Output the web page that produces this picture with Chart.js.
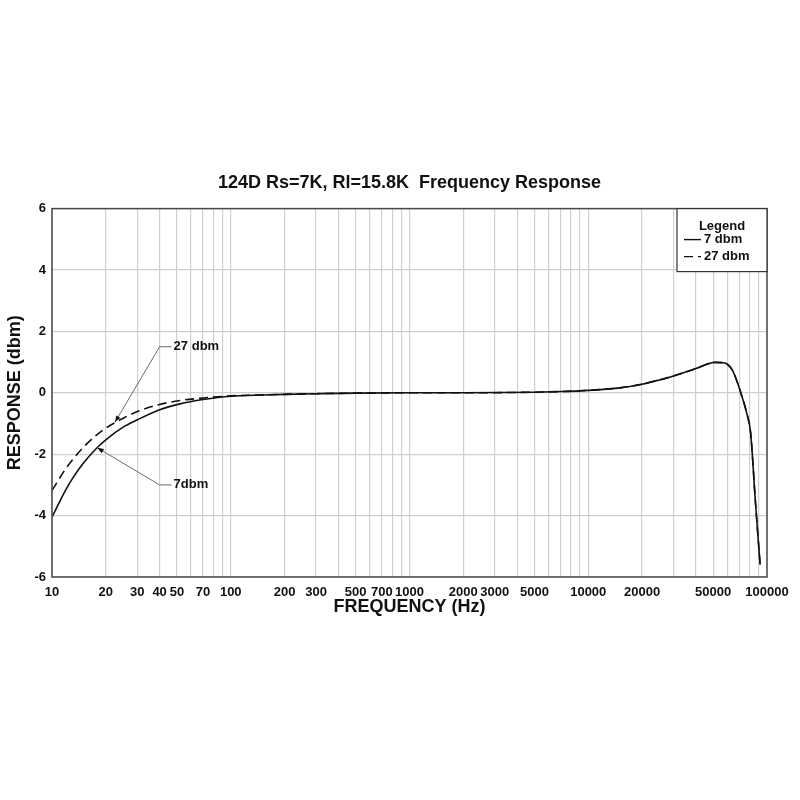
<!DOCTYPE html>
<html>
<head>
<meta charset="utf-8">
<title>124D Frequency Response</title>
<script src="https://cdn.jsdelivr.net/npm/chart.js@4.4.1/dist/chart.umd.min.js"></script>
<style>
    html, body { margin: 0; padding: 0; background: #ffffff; }
    #chart-wrap { width: 800px; height: 800px; }
</style>
</head>
<body>
<div id="chart-wrap"><canvas id="responseChart" width="800" height="800"></canvas></div>
<script>
const FONT = '"Liberation Sans", Arial, sans-serif';

// values
const frequencies = [10, 12, 13.2, 15, 17.8, 20, 25, 30, 40, 52, 70, 100, 150, 200, 300, 500, 1000, 2000, 5000, 7000,
    10000, 15000, 20000, 25000, 30000, 40000, 46000, 51000, 57000, 60000, 64000, 68000, 72000, 77000, 81000, 86000, 91500];
const response7dbm = [-4.05, -3.14, -2.74, -2.29, -1.80, -1.53, -1.12, -0.88, -0.55, -0.36, -0.22, -0.11, -0.07, -0.05, -0.03, -0.01, 0.0, 0.0, 0.02, 0.04,
    0.08, 0.16, 0.28, 0.42, 0.55, 0.79, 0.93, 0.99, 0.98, 0.93, 0.74, 0.37, -0.07, -0.66, -1.31, -3.49, -5.6];
const response27dbm = [-3.18, -2.45, -2.14, -1.77, -1.37, -1.15, -0.83, -0.61, -0.38, -0.25, -0.17, -0.10, -0.07, -0.05, -0.03, -0.01, 0.0, 0.0, 0.02, 0.04,
    0.08, 0.16, 0.28, 0.42, 0.55, 0.79, 0.93, 0.99, 0.98, 0.93, 0.74, 0.37, -0.07, -0.66, -1.31, -3.49, -5.6];

const seriesNames = ['7 dbm', '27 dbm'];
const gridDecades = [10, 100, 1000, 10000];
const xTickLabels = [10, 20, 30, 40, 50, 70, 100, 200, 300, 500, 700, 1000, 2000, 3000, 5000, 10000, 20000, 50000, 100000];

// callout labels: where the text sits and where the arrow points (data units)
const callouts = [
    { text: '27 dbm', labelFreq: 40, labelValue: 1.5, tipFreq: 22.5, tipValue: -0.96 },
    { text: '7dbm', labelFreq: 40, labelValue: -3.0, tipFreq: 17.9, tipValue: -1.79 }
];

function buildGridTicks() {
    const ticks = [];
    gridDecades.forEach(d => {
        for (let m = 1; m < 10; m++) ticks.push(d * m);
    });
    ticks.push(100000);
    return ticks.map(v => ({ value: v }));
}

function toPoints(values) {
    return frequencies.map((f, i) => ({ x: f, y: values[i] }));
}

const overlayPlugin = {
    id: 'overlay',
    afterDraw(chart) {
        const ctx = chart.ctx;
        const area = chart.chartArea;
        const xs = chart.scales.x;
        const ys = chart.scales.y;
        ctx.save();

        // callouts
        callouts.forEach(c => {
            const lx = xs.getPixelForValue(c.labelFreq);
            const ly = ys.getPixelForValue(c.labelValue);
            const tx = xs.getPixelForValue(c.tipFreq);
            const ty = ys.getPixelForValue(c.tipValue);
            ctx.strokeStyle = '#6a6a6a';
            ctx.lineWidth = 1;
            ctx.setLineDash([]);
            ctx.beginPath();
            ctx.moveTo(lx + 12, ly);
            ctx.lineTo(lx, ly);
            ctx.lineTo(tx, ty);
            ctx.stroke();
            const ang = Math.atan2(ty - ly, tx - lx);
            ctx.fillStyle = '#111';
            ctx.beginPath();
            ctx.moveTo(tx, ty);
            ctx.lineTo(tx - 7 * Math.cos(ang - 0.35), ty - 7 * Math.sin(ang - 0.35));
            ctx.lineTo(tx - 7 * Math.cos(ang + 0.35), ty - 7 * Math.sin(ang + 0.35));
            ctx.closePath();
            ctx.fill();
            ctx.font = 'bold 13px ' + FONT;
            ctx.textBaseline = 'middle';
            ctx.textAlign = 'left';
            ctx.fillText(c.text, lx + 14, ly);
        });

        // plot frame
        ctx.strokeStyle = '#4a4a4a';
        ctx.lineWidth = 1.5;
        ctx.strokeRect(area.left, area.top, area.right - area.left, area.bottom - area.top);

        // legend box
        const bw = 90, bh = 63;
        const bx = area.right - bw, by = area.top;
        ctx.fillStyle = '#ffffff';
        ctx.fillRect(bx, by, bw, bh);
        ctx.strokeStyle = '#333';
        ctx.lineWidth = 1.2;
        ctx.strokeRect(bx, by, bw, bh);
        ctx.fillStyle = '#111';
        ctx.font = 'bold 13px ' + FONT;
        ctx.textAlign = 'center';
        ctx.textBaseline = 'middle';
        ctx.fillText('Legend', bx + bw / 2, by + 18);
        ctx.textAlign = 'left';
        const rows = [by + 31, by + 48];
        const dashes = [[], [9, 5]];
        seriesNames.forEach((name, i) => {
            ctx.strokeStyle = '#111';
            ctx.lineWidth = 1.4;
            ctx.setLineDash(dashes[i]);
            ctx.beginPath();
            ctx.moveTo(bx + 7, rows[i]);
            ctx.lineTo(bx + 24, rows[i]);
            ctx.stroke();
            ctx.setLineDash([]);
            ctx.fillText(name, bx + 27, rows[i]);
        });
        ctx.restore();
    }
};

let chartInstance = null;

function drawChart() {
    const ctx = document.getElementById('responseChart').getContext('2d');
    if (chartInstance) chartInstance.destroy();

    chartInstance = new Chart(ctx, {
        type: 'line',
        data: {
            datasets: [{
                label: seriesNames[0],
                data: toPoints(response7dbm),
                borderColor: '#111',
                borderWidth: 1.6,
                pointRadius: 0,
                cubicInterpolationMode: 'monotone',
                fill: false
            }, {
                label: seriesNames[1],
                data: toPoints(response27dbm),
                borderColor: '#111',
                borderWidth: 1.6,
                borderDash: [9, 5],
                pointRadius: 0,
                cubicInterpolationMode: 'monotone',
                fill: false
            }]
        },
        options: {
            responsive: false,
            animation: false,
            devicePixelRatio: 1,
            layout: { padding: { top: 160, right: 33, bottom: 178, left: 0 } },
            plugins: {
                legend: { display: false },
                tooltip: { enabled: false },
                title: {
                    display: true,
                    fullSize: false,
                    text: '124D Rs=7K, Rl=15.8K  Frequency Response',
                    color: '#111',
                    font: { family: FONT, size: 18, weight: 'bold' },
                    padding: { top: 12, bottom: 15 }
                }
            },
            scales: {
                x: {
                    type: 'logarithmic',
                    min: 10,
                    max: 100000,
                    afterBuildTicks: axis => { axis.ticks = buildGridTicks(); },
                    afterFit: axis => { axis.height = 45; },
                    grid: { color: '#cfcfcf', lineWidth: 1.2, drawTicks: false },
                    border: { display: false },
                    ticks: {
                        autoSkip: false,
                        maxRotation: 0,
                        padding: 8,
                        color: '#111',
                        font: { family: FONT, size: 13, weight: 'bold' },
                        callback: value => xTickLabels.includes(Number(value)) ? String(value) : ''
                    },
                    title: {
                        display: true,
                        text: 'FREQUENCY (Hz)',
                        color: '#111',
                        font: { family: FONT, size: 18, weight: 'bold' },
                        padding: { top: 4, bottom: 4 }
                    }
                },
                y: {
                    min: -6,
                    max: 6,
                    afterFit: axis => { axis.width = 52; },
                    grid: { color: '#cfcfcf', lineWidth: 1.2, drawTicks: false },
                    border: { display: false },
                    ticks: {
                        stepSize: 2,
                        padding: 6,
                        color: '#111',
                        font: { family: FONT, size: 13, weight: 'bold' }
                    },
                    title: {
                        display: true,
                        text: 'RESPONSE (dbm)',
                        color: '#111',
                        font: { family: FONT, size: 18, weight: 'bold' },
                        padding: { top: 4, bottom: 4 }
                    }
                }
            }
        },
        plugins: [overlayPlugin]
    });
}

drawChart();
</script>
</body>
</html>
